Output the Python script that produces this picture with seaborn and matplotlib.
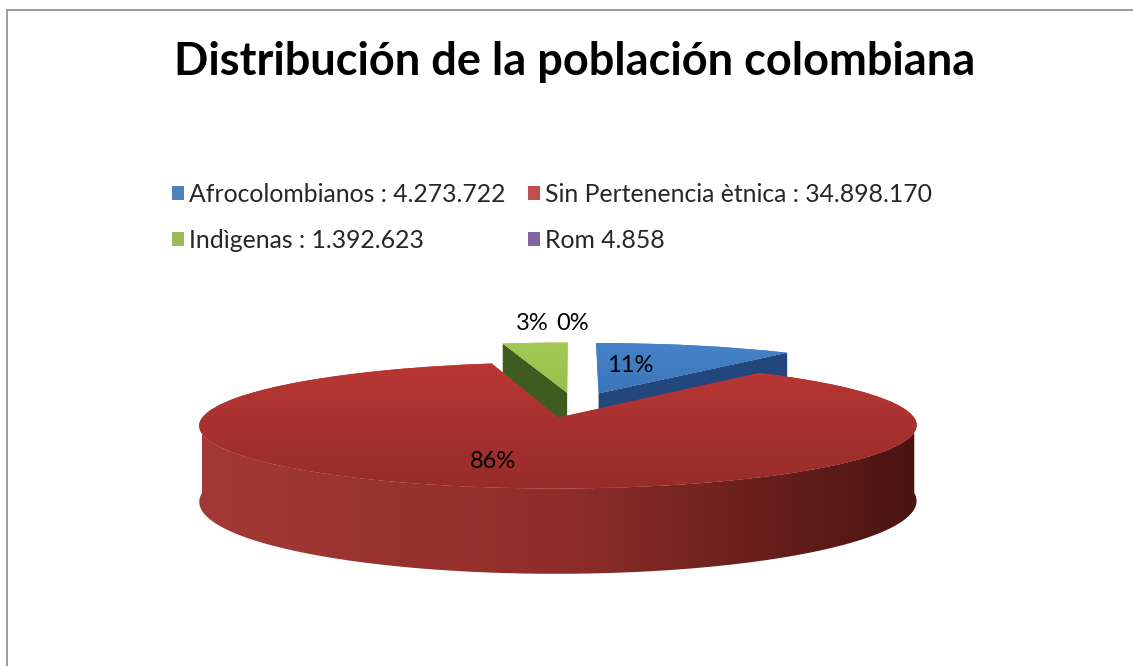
import numpy as np
import matplotlib
matplotlib.use("Agg")
import matplotlib.pyplot as plt
from matplotlib.patches import Polygon, Patch
from matplotlib.lines import Line2D
from matplotlib.transforms import Transform
from matplotlib.colors import LinearSegmentedColormap
import seaborn as sns

############################ DATOS ############################
categorias = ["Afrocolombianos", "Sin Pertenencia ètnica", "Indìgenas", "Rom"]
poblacion = [4273722, 34898170, 1392623, 4858]
leyenda = ["Afrocolombianos : 4.273.722", "Sin Pertenencia ètnica : 34.898.170",
           "Indìgenas : 1.392.623", "Rom 4.858"]
titulo = "Distribución de la población colombiana"

############################ ESTILO ############################
colores_leyenda = ["#4F81BD", "#C0504D", "#9BBB59", "#8064A2"]
# cara superior: [frente, fondo]
colores_top = [["#2E5F9E", "#4582C8"], ["#962C2A", "#BF3936"],
               ["#86AE3C", "#A2C953"], ["#6A5288", "#8064A2"]]
colores_corte = ["#23467C", "#7A201E", "#3E5B20", "#4B3A63"]
colores_lado = [["#2F5C94", "#1E3D66"], ["#A33935", "#902E2B", "#4A1412"],
                ["#5E8A2E", "#3A5420"], ["#6A5288", "#3F3055"]]
pos_etiquetas = [(630, 366), (493, 461), (532, 323), (573, 323)]

sns.set_theme(style="white")
plt.rcParams['font.family'] = ['Lato', 'DejaVu Sans']

W, H = 1133, 666
fig = plt.figure(figsize=(W / 100, H / 100), dpi=100, frameon=False)
ax = fig.add_axes([0, 0, 1, 1])

############################ PIE 3D ############################
cx, cy = 575, H - 405   # centro de la elipse (pixeles, y hacia arriba)
R, A = 347, 59          # escala horizontal / vertical
K = 0.12                # perspectiva
t = 73                  # grosor
explode = 0.214


class Perspectiva(Transform):
    input_dims = 2
    output_dims = 2

    def transform_non_affine(self, xy):
        xy = np.atleast_2d(np.asarray(xy, dtype=float))
        u, v = xy[:, 0], xy[:, 1]
        s = 1.0 / (1.0 + K * v)
        return np.column_stack([cx + R * u * s, cy + A * v * s])


def punto(c, ang, rad=1.0, abajo=False):
    a = np.radians(ang)
    u = c[0] + rad * np.cos(a)
    v = c[1] + rad * np.sin(a)
    s = 1.0 / (1.0 + K * v)
    y = cy + A * v * s
    if abajo:
        y = y - t * s
    return cx + R * u * s, y


wedges, _ = ax.pie(poblacion, radius=1, startangle=90, counterclock=False,
                   explode=[explode] * len(poblacion),
                   colors=[c[1] for c in colores_top],
                   wedgeprops=dict(linewidth=0))

persp = Perspectiva() + ax.transData
grad_h = np.linspace(0, 1, 256).reshape(1, -1)
grad_v = np.linspace(0, 1, 256).reshape(-1, 1)
total = sum(poblacion)
# extension vertical de la cara superior (para el degradado)
y_frente = punto((0, -explode), 270)[1]
y_fondo = punto((0, explode), 90)[1]

# orden de pintado: de atras hacia adelante
orden = sorted(range(len(wedges)), key=lambda i: -wedges[i].center[1])
for k, i in enumerate(orden):
    w = wedges[i]
    base = 2 + 4 * k
    c = w.center
    w.set_transform(persp)
    w.set_zorder(base + 2)
    if poblacion[i] / total < 0.001:
        # porcion casi nula: no se ve en el grafico
        w.set_visible(False)
        continue
    # pared exterior visible (mitad frontal)
    angs = np.linspace(w.theta1, w.theta2, 800)
    vis = np.sin(np.radians(angs)) < 0
    if vis.sum() > 1:
        seg = angs[vis]
        xs, ys = punto(c, seg)
        xb, yb = punto(c, seg, abajo=True)
        pts = np.vstack([np.column_stack([xs, ys]),
                         np.column_stack([xb[::-1], yb[::-1]])])
        poly = Polygon(pts, closed=True, transform=ax.transData)
        cmap = LinearSegmentedColormap.from_list("lado%d" % i, colores_lado[i])
        im = ax.imshow(grad_h, extent=[pts[:, 0].min(), pts[:, 0].max(),
                                       pts[:, 1].min(), pts[:, 1].max()],
                       cmap=cmap, aspect='auto', zorder=base, origin='lower',
                       interpolation='bilinear')
        im.set_clip_path(poly)
    # caras de corte visibles
    caras = []
    if np.cos(np.radians(w.theta1)) > 1e-6:
        caras.append(w.theta1)
    if np.cos(np.radians(w.theta2)) < -1e-6:
        caras.append(w.theta2)
    for ang in caras:
        x0, y0 = punto(c, ang, 0)
        x1, y1 = punto(c, ang, 1)
        x2, y2 = punto(c, ang, 1, abajo=True)
        x3, y3 = punto(c, ang, 0, abajo=True)
        ax.add_patch(Polygon([(x0, y0), (x1, y1), (x2, y2), (x3, y3)],
                             closed=True, facecolor=colores_corte[i],
                             linewidth=0, zorder=base + 1))
    # degradado de la cara superior, recortado a la porcion
    cmap_t = LinearSegmentedColormap.from_list("top%d" % i, colores_top[i])
    im_t = ax.imshow(grad_v, extent=[cx - R - 60, cx + R + 60, y_frente, y_fondo],
                     cmap=cmap_t, aspect='auto', zorder=base + 3, origin='lower',
                     interpolation='bilinear')
    im_t.set_clip_path(w)

ax.set_xlim(0, W)
ax.set_ylim(0, H)
ax.set_aspect('auto')
ax.axis('off')

############################ ETIQUETAS ############################
for i, v in enumerate(poblacion):
    x, y = pos_etiquetas[i]
    ax.text(x, H - y, "%d%%" % round(100 * v / total), ha='center', va='center',
            fontsize=17, color='black', zorder=50)

fig.text(575 / W, 1 - 62 / H, titulo, ha='center', va='center',
         fontsize=32.5, fontweight='bold', color='black')

handles = [Patch(facecolor=colores_leyenda[i], edgecolor='none', label=leyenda[i])
           for i in range(len(leyenda))]
orden_ley = [0, 2, 1, 3]
fig.legend([handles[i] for i in orden_ley], [leyenda[i] for i in orden_ley],
           ncol=2, loc='upper left', bbox_to_anchor=(172 / W, 1 - 183 / H),
           frameon=False, fontsize=17.8, handlelength=0.5, handleheight=0.5,
           handletextpad=0.2, columnspacing=0.9, labelspacing=0.93,
           borderpad=0, borderaxespad=0)

# marco del grafico (solo borde superior e izquierdo visibles)
fig.add_artist(Line2D([7 / W, 7 / W], [0, 1 - 9.5 / H], color='#8C8C8C', lw=1.2))
fig.add_artist(Line2D([7 / W, 1], [1 - 9.5 / H, 1 - 9.5 / H], color='#8C8C8C', lw=1.2))

plt.savefig("out.png", dpi=100, facecolor='white')
